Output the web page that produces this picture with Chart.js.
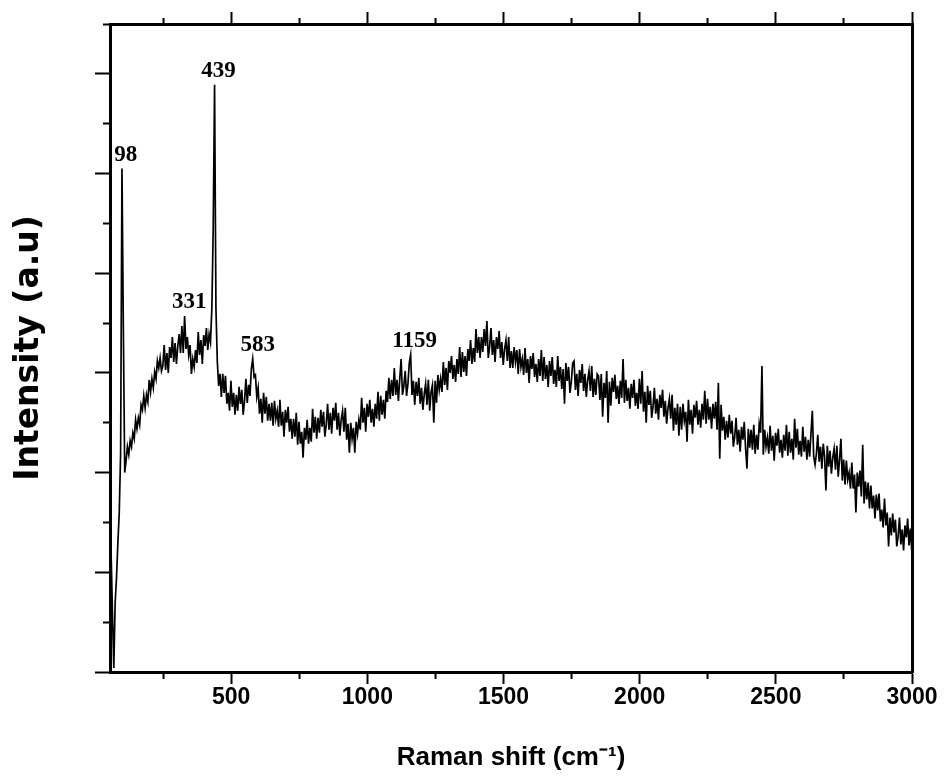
<!DOCTYPE html>
<html>
<head>
<meta charset="utf-8">
<title>Raman spectrum</title>
<script src="https://cdn.jsdelivr.net/npm/chart.js@4.4.1/dist/chart.umd.min.js"></script>
<style>
  html, body { margin: 0; padding: 0; background: #fff; }
  #wrap { width: 950px; height: 781px; }
</style>
</head>
<body>
<div id="wrap"><canvas id="myChart" width="950" height="781"></canvas></div>
<script>
// spectrum sampled every 5 cm-1 starting at 49 cm-1 (one row = 100 cm-1)
const shiftStart = 49;
const shiftStep = 5;
const intensity = [
  0, 0, 120, 60, 4, 70, 95, 130, 160, 220, 505, 345, 200, 212, 226, 218, 232, 226, 240, 234,
  253, 244, 255, 248, 268, 263, 277, 265, 278, 271, 293, 281, 294, 285, 301, 294, 312, 305, 315, 302,
  307, 328, 303, 320, 300, 326, 315, 336, 311, 330, 309, 327, 339, 320, 347, 320, 357, 324, 336, 318,
  328, 299, 314, 306, 323, 310, 341, 318, 333, 309, 338, 327, 345, 323, 339, 331, 365, 445, 589, 365,
  312, 287, 299, 276, 299, 280, 297, 269, 280, 262, 292, 266, 280, 258, 278, 262, 286, 269, 283, 258,
  272, 294, 270, 288, 277, 304, 314, 296, 298, 276, 285, 259, 274, 250, 280, 259, 276, 252, 269, 252,
  270, 247, 272, 254, 262, 246, 273, 247, 261, 236, 263, 250, 266, 241, 254, 234, 254, 236, 260, 228,
  251, 229, 241, 215, 245, 233, 253, 229, 245, 231, 264, 240, 256, 234, 255, 240, 263, 246, 261, 236,
  248, 269, 243, 260, 239, 265, 252, 270, 243, 260, 237, 253, 262, 241, 265, 233, 249, 220, 250, 234,
  245, 220, 251, 239, 253, 243, 275, 250, 265, 241, 269, 256, 273, 250, 264, 246, 269, 254, 281, 252,
  277, 258, 273, 254, 282, 271, 295, 274, 293, 277, 305, 278, 293, 272, 294, 314, 278, 287, 302, 277,
  289, 310, 318, 278, 292, 268, 291, 277, 295, 269, 285, 263, 279, 289, 268, 293, 262, 281, 288, 250,
  292, 270, 298, 283, 294, 281, 311, 288, 305, 283, 312, 300, 317, 294, 308, 291, 314, 299, 326, 296,
  321, 301, 317, 297, 324, 312, 333, 309, 325, 311, 344, 320, 336, 315, 336, 321, 344, 327, 352, 315,
  326, 345, 318, 333, 311, 336, 324, 342, 315, 331, 308, 324, 333, 312, 336, 305, 322, 305, 326, 311,
  323, 299, 324, 306, 314, 298, 325, 300, 314, 290, 317, 304, 320, 296, 309, 291, 314, 297, 323, 292,
  316, 294, 308, 286, 312, 297, 316, 289, 303, 286, 317, 292, 306, 284, 304, 269, 310, 292, 306, 280,
  291, 310, 312, 283, 299, 277, 303, 290, 309, 282, 299, 276, 293, 302, 282, 307, 276, 294, 278, 299,
  297, 273, 299, 256, 290, 275, 302, 250, 291, 267, 295, 281, 298, 274, 287, 269, 292, 275, 314, 270,
  293, 272, 285, 264, 289, 275, 293, 267, 280, 264, 294, 269, 302, 261, 281, 250, 287, 268, 282, 255,
  266, 285, 259, 274, 253, 278, 265, 283, 256, 272, 249, 265, 274, 254, 278, 242, 265, 248, 269, 237,
  266, 243, 269, 252, 261, 231, 273, 248, 263, 239, 268, 255, 272, 248, 263, 245, 269, 253, 282, 249,
  274, 253, 266, 244, 269, 254, 271, 243, 290, 214, 268, 242, 256, 233, 252, 235, 258, 239, 252, 226,
  236, 255, 228, 243, 221, 246, 233, 251, 224, 204, 244, 225, 243, 223, 248, 219, 238, 223, 249, 240,
  307, 218, 243, 226, 235, 219, 247, 222, 237, 212, 240, 227, 244, 220, 233, 215, 238, 222, 248, 217,
  241, 220, 234, 213, 254, 225, 244, 218, 232, 216, 246, 221, 236, 213, 233, 216, 239, 262, 216, 208,
  219, 238, 211, 226, 204, 229, 216, 182, 227, 206, 222, 199, 215, 224, 203, 227, 196, 213, 234, 192,
  213, 188, 212, 193, 200, 184, 210, 184, 198, 160, 200, 186, 202, 176, 228, 169, 191, 173, 190, 164,
  187, 164, 177, 154, 178, 162, 179, 151, 163, 145, 174, 147, 160, 126, 155, 137, 159, 140, 153, 126,
  136, 155, 128, 143, 122, 147, 135, 154, 127, 144, 122
];
const peakShifts = [98, 331, 439, 583, 1159];

const xTickValues = [250, 500, 750, 1000, 1250, 1500, 1750, 2000, 2250, 2500, 2750, 3000];
const xLabelValues = [500, 1000, 1500, 2000, 2500, 3000];
const yTickValues = [0, 50, 100, 150, 200, 250, 300, 350, 400, 450, 500, 550, 600, 650];
const yMajorValues = [0, 100, 200, 300, 400, 500, 600];

const xMin = 55, xMax = 3000, yMin = 0, yMax = 650;

const puntos = intensity.map((v, i) => ({ x: shiftStart + i * shiftStep, y: v }));

const setTicks = (valores) => (scale) => {
  scale.ticks = valores.map((value) => ({ value }));
};

// short ticks for the minor positions (drawn from the outside in on top/left)
const dashOutsideIn = (majors, largo, corto) => (ctx) =>
  ctx.tick && !majors.includes(ctx.tick.value) ? [corto, largo - corto] : [];
const offsetOutsideIn = (majors, corto) => (ctx) =>
  ctx.tick && !majors.includes(ctx.tick.value) ? corto : 0;

const peakLabels = {
  id: "peakLabels",
  afterDatasetsDraw(chart) {
    const { ctx, scales: { x, y } } = chart;
    ctx.save();
    ctx.font = 'bold 23px "Liberation Serif", "Times New Roman", serif';
    ctx.fillStyle = "#000";
    ctx.textAlign = "center";
    ctx.textBaseline = "alphabetic";
    peakShifts.forEach((p) => {
      let tope = 0;
      puntos.forEach((pt) => {
        if (Math.abs(pt.x - p) <= 6) tope = Math.max(tope, pt.y);
      });
      ctx.fillText(String(p), x.getPixelForValue(p) + 4, y.getPixelForValue(tope) - 8);
    });
    ctx.restore();
  },
};

const config = {
  type: "line",
  data: {
    datasets: [
      {
        data: puntos,
        borderColor: "#000",
        borderWidth: 1.7,
        pointRadius: 0,
        tension: 0,
        fill: false,
      },
    ],
  },
  options: {
    responsive: false,
    animation: false,
    devicePixelRatio: 1,
    layout: { padding: 0 },
    plugins: { legend: { display: false }, tooltip: { enabled: false } },
    scales: {
      x: {
        type: "linear",
        position: "bottom",
        min: xMin,
        max: xMax,
        afterBuildTicks: setTicks(xTickValues),
        afterFit: (s) => { s.height = 109; },
        border: { display: true, color: "#000", width: 3 },
        grid: {
          drawOnChartArea: false,
          drawTicks: true,
          tickLength: 12,
          tickWidth: 2,
          tickColor: "#000",
          tickBorderDash: (ctx) => (ctx.tick && !xLabelValues.includes(ctx.tick.value) ? [5, 20] : []),
        },
        ticks: {
          autoSkip: false,
          maxRotation: 0,
          padding: 0,
          color: "#000",
          font: { family: "Liberation Sans", size: 23, weight: "bold" },
          callback: (v) => (xLabelValues.includes(v) ? String(v) : ""),
        },
        title: {
          display: true,
          text: "Raman shift (cm\u207B\u00B9)",
          color: "#000",
          font: { family: "Liberation Sans", size: 26, weight: "bold" },
          padding: { top: 0, bottom: 8 },
        },
      },
      x2: {
        type: "linear",
        position: "top",
        min: xMin,
        max: xMax,
        afterBuildTicks: setTicks(xTickValues),
        afterFit: (s) => { s.height = 24; },
        border: { display: true, color: "#000", width: 3 },
        grid: {
          drawOnChartArea: false,
          drawTicks: true,
          tickLength: 12,
          tickWidth: 2,
          tickColor: "#000",
          tickBorderDash: dashOutsideIn(xLabelValues, 12, 6),
          tickBorderDashOffset: offsetOutsideIn(xLabelValues, 6),
        },
        ticks: { display: false },
      },
      y: {
        type: "linear",
        position: "left",
        min: yMin,
        max: yMax,
        afterBuildTicks: setTicks(yTickValues),
        afterFit: (s) => { s.width = 110; },
        border: { display: true, color: "#000", width: 3 },
        grid: {
          drawOnChartArea: false,
          drawTicks: true,
          tickLength: 15,
          tickWidth: 2,
          tickColor: "#000",
          tickBorderDash: dashOutsideIn(yMajorValues, 15, 7),
          tickBorderDashOffset: offsetOutsideIn(yMajorValues, 7),
        },
        ticks: { display: false },
        title: {
          display: true,
          text: "Intensity (a.u)",
          color: "#000",
          font: { family: "DejaVu Sans", size: 33, weight: "bold" },
          padding: { top: 10, bottom: 0 },
        },
      },
      y2: {
        type: "linear",
        position: "right",
        min: yMin,
        max: yMax,
        afterFit: (s) => { s.width = 38; },
        border: { display: true, color: "#000", width: 3 },
        grid: { drawOnChartArea: false, drawTicks: false },
        ticks: { display: false },
      },
    },
  },
  plugins: [peakLabels],
};

const miChart = document.querySelector("#myChart");
const myChart = new Chart(miChart, config);
</script>
</body>
</html>
